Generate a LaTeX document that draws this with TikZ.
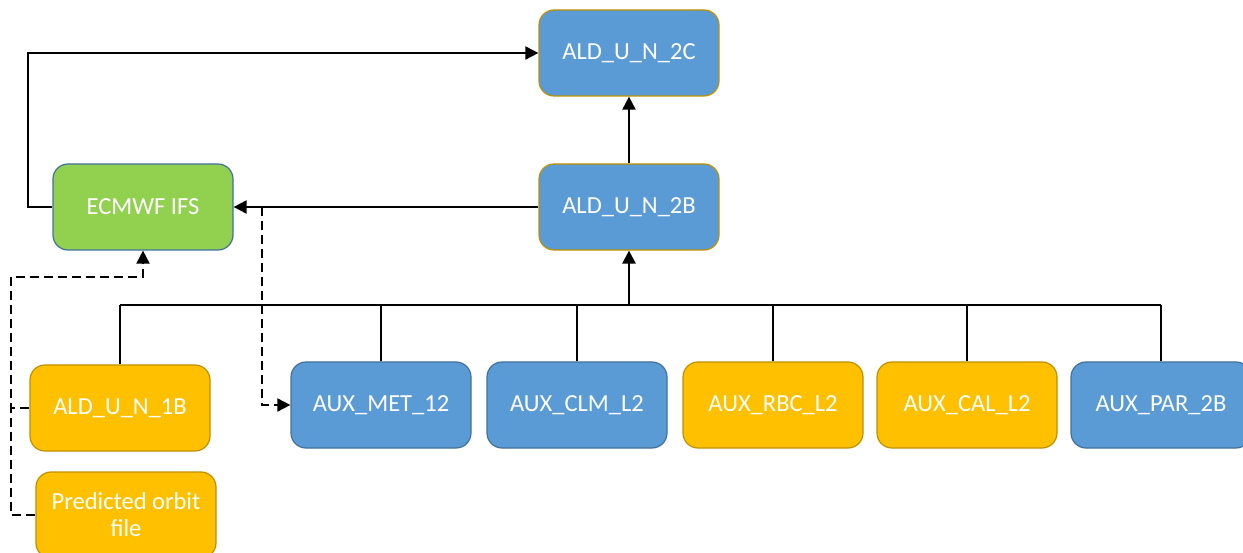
\documentclass[tikz,border=0pt]{standalone}
\usepackage{fontspec}
\setmainfont{Carlito}
\usetikzlibrary{arrows.meta}
\definecolor{boxblue}{HTML}{5B9BD5}
\definecolor{edgeblue}{HTML}{41719C}
\definecolor{boxyellow}{HTML}{FFC000}
\definecolor{edgegold}{HTML}{BF9000}
\definecolor{boxgreen}{HTML}{92D050}
\tikzset{
  prod/.style={rectangle, rounded corners=15pt, minimum width=180pt, minimum height=86pt,
    inner sep=0pt, line width=1.2pt, text=white, font=\fontsize{24.5}{28}\selectfont, align=center},
  bluegold/.style={prod, fill=boxblue, draw=edgegold},
  blueaux/.style={prod, fill=boxblue, draw=edgeblue},
  yellowbox/.style={prod, fill=boxyellow, draw=edgegold},
  greenbox/.style={prod, fill=boxgreen, draw=edgeblue},
  tip/.style={-{Triangle[length=13pt, width=13pt]}},
  flow/.style={line width=1.9pt, tip},
  plain/.style={line width=1.9pt},
  busline/.style={line width=2.7pt},
  dashflow/.style={line width=1.9pt, dash pattern=on 9pt off 5pt, tip},
  dashplain/.style={line width=1.9pt, dash pattern=on 9pt off 5pt},
}
\begin{document}
\begin{tikzpicture}[x=1pt, y=-1pt]
\useasboundingbox (0,0) rectangle (1243,553);

% level 2 products and the model
\node[bluegold] (l2c) at (629,53) {ALD\_U\_N\_2C};
\node[bluegold] (l2b) at (629,207) {ALD\_U\_N\_2B};
\node[greenbox] (ifs) at (143,207) {ECMWF IFS};

% inputs
\node[yellowbox] (l1b) at (120,408) {ALD\_U\_N\_1B};
\node[yellowbox] (orbit) at (126,515) {Predicted orbit\\[-1pt]file};
\node[blueaux] (met) at (381,405) {AUX\_MET\_12};
\node[blueaux] (clm) at (577,405) {AUX\_CLM\_L2};
\node[yellowbox] (rbc) at (773,405) {AUX\_RBC\_L2};
\node[yellowbox] (cal) at (967,405) {AUX\_CAL\_L2};
\node[blueaux] (par) at (1161,405) {AUX\_PAR\_2B};

% collecting bus into ALD_U_N_2B
\coordinate (busL) at (120,305);
\coordinate (busR) at (1161,305);
\coordinate (busM) at (629,305);
\draw[busline] (busL) -- (busR);
\foreach \n in {l1b, met, clm, rbc, cal, par}
  \draw[plain] (\n.north) -- (\n.north |- busL);
\draw[busline, tip] (busM) -- (l2b.south);

% level 2B to level 2C and to the model
\draw[flow] (l2b.north) -- (l2c.south);
\draw[flow] (l2b.west) -- (ifs.east);
\coordinate (ifsL) at (28,207);
\draw[flow] (ifs.west) -- (ifsL) |- (l2c.west);

% model output feeding AUX_MET_12
\coordinate (tap) at (262,207);
\draw[dashflow] (tap) |- (met.west);

% level 1B and orbit file feeding the model
\coordinate (dl) at (11,277);
\coordinate (dr) at (143,277);
\draw[dashflow] (l1b.west) -| (dl) -- (dr) -- (ifs.south);
\draw[dashplain] (orbit.west) -| (11,408);
\end{tikzpicture}
\end{document}
